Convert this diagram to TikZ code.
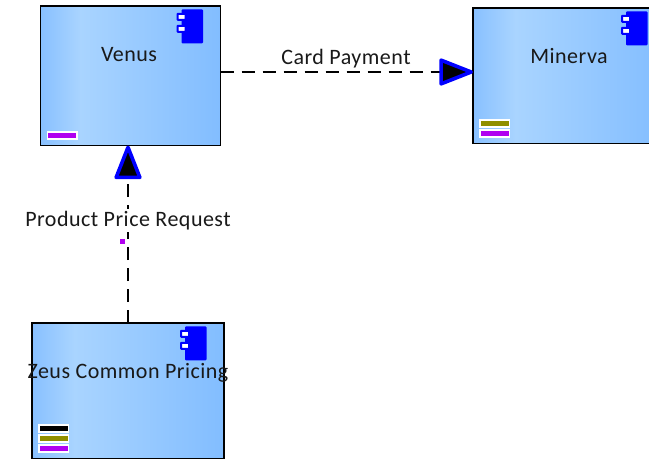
\documentclass[tikz,border=0pt]{standalone}
\usepackage{fontspec}
\setmainfont[LetterSpace=2.2]{Carlito}
\usetikzlibrary{arrows.meta,positioning,calc}

\definecolor{boxa}{HTML}{88C0FF}
\definecolor{boxb}{HTML}{A9D4FF}
\definecolor{boxc}{HTML}{82BDFF}
\definecolor{barpurple}{HTML}{B000F0}
\definecolor{barolive}{HTML}{8F8F00}
\pgfdeclarehorizontalshading{boxshade}{100bp}{color(0bp)=(boxa); color(25bp)=(boxa); color(36bp)=(boxb); color(75bp)=(boxc); color(100bp)=(boxc)}

\newcommand{\compicon}[1]{%
  \node[compbody, below left=3.3pt and 17.5pt of #1.north east] (#1body) {};
  \node[comptab] (#1taba) at ([yshift=-7.5pt]#1body.north west) {};
  \node[comptab] (#1tabb) at ([yshift=-19.5pt]#1body.north west) {};
}

\begin{document}
\begin{tikzpicture}[x=1pt,y=-1pt]
\tikzset{
  basic/.style  = {draw, line width=1.7pt, outer sep=0pt, inner sep=0pt},
  sysbox/.style = {basic, shading=boxshade},
  title/.style  = {font=\fontsize{22}{25}\selectfont, text=black!90, inner sep=1pt},
  compbody/.style = {fill=blue, rounded corners=1pt, minimum width=21.5pt,
                   minimum height=34pt, outer sep=0pt, inner sep=0pt},
  comptab/.style = {draw=blue, fill=white, line width=2pt, rounded corners=.5pt,
                   minimum width=8pt, minimum height=6pt, inner sep=0pt},
  bar/.style    = {draw=white, line width=1.5pt, minimum width=29.5pt,
                   minimum height=7pt, inner sep=0pt, outer sep=0pt},
  link/.style   = {line width=1.5pt, dash pattern=on 13pt off 8pt,
                   -{Triangle[round, fill=black, color=blue, line width=3.6pt,
                   length=37pt, width=28pt]}}
}
\useasboundingbox (0,0) rectangle (649,459);
\clip (0,0) rectangle (649,459);

\node[sysbox, minimum width=180pt, minimum height=139.5pt] (venus) at (130.5,75.75) {};
\node[sysbox, minimum width=192pt, minimum height=135.5pt] (minerva) at (569,75.75) {};
\node[sysbox, minimum width=192pt, minimum height=135.5pt] (zeus) at (128,390.75) {};

\compicon{venus}
\compicon{minerva}
\compicon{zeus}

% the bars in the lower left corners
\node[bar, fill=barpurple, above right=6.5pt and 7pt of venus.south west, anchor=south west] (venusbara) {};
\node[bar, fill=barpurple, above right=6.3pt and 7pt of minerva.south west, anchor=south west] (minervabara) {};
\node[bar, fill=barolive, above=3pt of minervabara] (minervabarb) {};
\node[bar, fill=barpurple, above right=6.5pt and 7pt of zeus.south west, anchor=south west] (zeusbara) {};
\node[bar, fill=barolive, above=3pt of zeusbara] (zeusbarb) {};
\node[bar, fill=black, above=3pt of zeusbarb] (zeusbarc) {};

% the connectors
\draw[link] ([yshift=3.75pt]venus.east) -- ([yshift=3.75pt]minerva.west);
\draw[link] (zeus.north) -- (zeus.north |- venus.south);

\node[title] (venustitle) at (129,55) {Venus};
\node[title] (minervatitle) at (569,56) {Minerva};
\node[title] (zeustitle) at (128,373) {Zeus Common Pricing};
\node[title] (paytitle) at (346,59) {Card Payment};
\node[title, fill=white, inner sep=2pt] (pricetitle) at (128,220.5) {Product Price Request};
\node[fill=barpurple, minimum size=5.5pt, inner sep=0pt] (pricemark) at (122.3,241.5) {};
\end{tikzpicture}
\end{document}
